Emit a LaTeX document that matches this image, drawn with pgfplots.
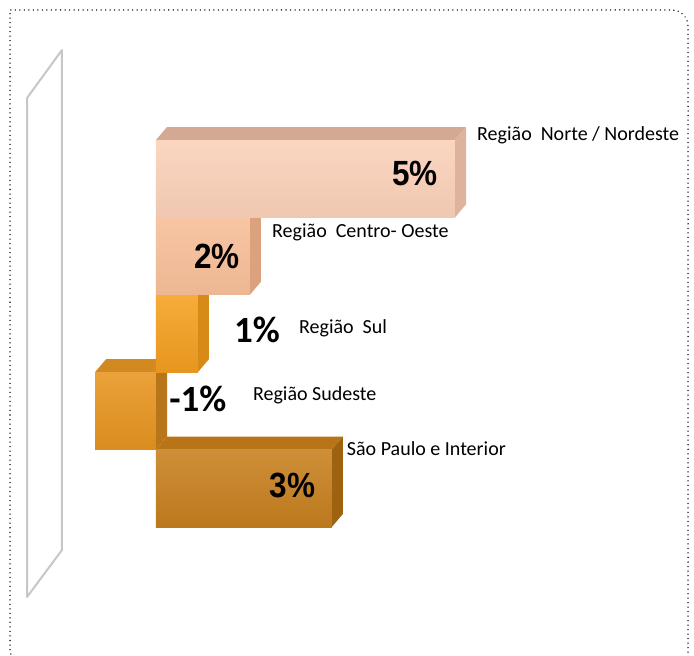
\documentclass[border=0pt]{standalone}
\usepackage{fontspec}
\setmainfont{Carlito}
\newfontfamily\valfont[FakeStretch=0.9]{Liberation Sans}
\newfontfamily\calfont{Carlito}
\usepackage{pgfplots}
\pgfplotsset{compat=1.18}
\definecolor{nF}{HTML}{FAD0B8}\definecolor{nT}{HTML}{D4A994}\definecolor{nS}{HTML}{DDB39E}
\definecolor{cF}{HTML}{F7BE98}\definecolor{cT}{HTML}{D9A485}\definecolor{cS}{HTML}{DCA27E}
\definecolor{sF}{HTML}{F5A020}\definecolor{sT}{HTML}{DC8E1C}\definecolor{sS}{HTML}{D88A17}
\definecolor{eF}{HTML}{E8951F}\definecolor{eT}{HTML}{D28A20}\definecolor{eS}{HTML}{B8761A}
\definecolor{pF}{HTML}{C8801E}\definecolor{pT}{HTML}{B87417}\definecolor{pS}{HTML}{9E6310}
\begin{document}
\begin{tikzpicture}
\useasboundingbox (0,0) rectangle (694pt,656pt);
\fill[white] (0,0) rectangle (694pt,656pt);
\begin{axis}[at={(0,0)}, anchor=south west, scale only axis,
  width=694pt, height=656pt,
  xmin=-2.6087, xmax=8.9967, ymin=0, ymax=656, y dir=reverse,
  hide axis, clip=false, no markers,
  every axis plot/.append style={forget plot, draw=none, line join=round}]
% wall
\addplot[fill=white, draw=black!22, line width=2pt] coordinates {(-2.157,98) (-1.572,50) (-1.572,550) (-2.157,597) (-2.157,98)};
% Bar 5: Sao Paulo e Interior (2.94)
\addplot[fill=pT] coordinates {(0,449.6) (2.94,449.6) (3.124,436.6) (0.184,436.6)};
\addplot[fill=pS] coordinates {(2.94,449.6) (3.124,436.6) (3.124,514) (2.94,527)};
\addplot[xbar, bar width=77.4, top color=pF!88!white, bottom color=pF!94!black] coordinates {(2.94,488.3)};
% Bar 4: Sudeste (-1.02)
\addplot[fill=eT] coordinates {(0,372.2) (-1.02,372.2) (-0.836,359.2) (0.184,359.2)};
\addplot[fill=eS] coordinates {(0,372.2) (0.184,359.2) (0.184,436.6) (0,449.6)};
\addplot[xbar, bar width=77.4, top color=eF!88!white, bottom color=eF!94!black] coordinates {(-1.02,410.9)};
% Bar 3: Sul (0.70)
\addplot[fill=sT] coordinates {(0,294.8) (0.70,294.8) (0.884,281.8) (0.184,281.8)};
\addplot[fill=sS] coordinates {(0.70,294.8) (0.884,281.8) (0.884,359.2) (0.70,372.2)};
\addplot[xbar, bar width=77.4, top color=sF!88!white, bottom color=sF!94!black] coordinates {(0.70,333.5)};
% Bar 2: Centro-Oeste (1.57)
\addplot[fill=cT] coordinates {(0,217.4) (1.57,217.4) (1.754,204.4) (0.184,204.4)};
\addplot[fill=cS] coordinates {(1.57,217.4) (1.754,204.4) (1.754,281.8) (1.57,294.8)};
\addplot[xbar, bar width=77.4, top color=cF!88!white, bottom color=cF!96!black] coordinates {(1.57,256.1)};
% Bar 1: Norte / Nordeste (5.0)
\addplot[fill=nT] coordinates {(0,140) (5.0,140) (5.184,127) (0.184,127)};
\addplot[fill=nS] coordinates {(5.0,140) (5.184,127) (5.184,204.4) (5.0,217.4)};
\addplot[xbar, bar width=77.4, top color=nF!88!white, bottom color=nF!96!black] coordinates {(5.0,178.7)};
% category labels
\begin{scope}[every node/.style={anchor=base west, inner sep=0pt, font=\fontsize{20}{24}\selectfont}]
\node at (axis cs:5.368,140) {Região\ \ Norte / Nordeste};
\node at (axis cs:1.94,237) {Região\ \ Centro- Oeste};
\node at (axis cs:2.39,333) {Região\ \ Sul};
\node at (axis cs:1.62,400) {Região Sudeste};
\node at (axis cs:3.19,455) {São Paulo e Interior};
\end{scope}
% value labels
\begin{scope}[every node/.style={inner sep=0pt, font=\valfont\bfseries\fontsize{35}{38}\selectfont}]
\node at (axis cs:4.33,173) {5\%};
\node at (axis cs:1.02,256) {2\%};
\node at (axis cs:2.28,485) {3\%};
\end{scope}
\begin{scope}[every node/.style={inner sep=0pt, font=\calfont\bfseries\fontsize{37}{40}\selectfont}]
\node at (axis cs:1.69,330) {1\%};
\node at (axis cs:0.70,399) {-1\%};
\end{scope}
\end{axis}
% dotted frame
\draw[line width=1.5pt, dash pattern=on 0.01pt off 4.5pt, line cap=round]
  (40pt,-4pt) [rounded corners=10pt]-- (10pt,-4pt) [sharp corners]-- (10pt,646pt) [rounded corners=16pt]-- (688pt,646pt) [sharp corners]-- (688pt,-20pt);
\end{tikzpicture}
\end{document}
